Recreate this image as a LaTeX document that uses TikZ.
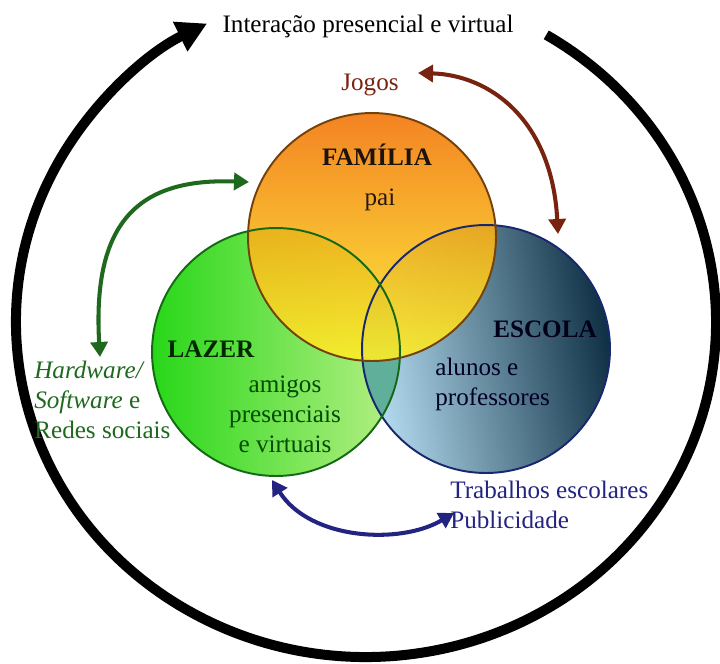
\documentclass[tikz,border=0pt]{standalone}
\usepackage{fontspec}
\setmainfont{Liberation Serif}
\usetikzlibrary{arrows.meta}
\definecolor{famtop}{RGB}{242,118,10}
\definecolor{fambot}{RGB}{252,238,40}
\definecolor{famedge}{RGB}{115,65,10}
\definecolor{lazleft}{RGB}{40,215,25}
\definecolor{lazright}{RGB}{185,240,135}
\definecolor{lazedge}{RGB}{20,105,20}
\definecolor{esclight}{RGB}{185,225,245}
\definecolor{escdark}{RGB}{15,48,68}
\definecolor{escedge}{RGB}{25,40,110}
\definecolor{mixteal}{RGB}{95,175,155}
\definecolor{hwgreen}{RGB}{30,105,30}
\definecolor{jogbrown}{RGB}{120,35,15}
\definecolor{trabnavy}{RGB}{35,35,130}
\begin{document}
\begin{tikzpicture}[x=0.02cm, y=-0.02cm, font=\fontsize{14.3}{17}\selectfont,
  set/.style={circle, minimum size=4.96cm, inner sep=0pt},
  link/.style={line width=2.3pt, {Triangle[length=3mm,width=3.4mm]}-{Triangle[length=3mm,width=3.4mm]}},
  lbl/.style={inner sep=0pt}]
  \useasboundingbox (0,0) rectangle (720,663);
  \node[set, shading=axis, top color=esclight, bottom color=escdark, shading angle=100] (escola) at (486,349) {};
  \node[set, left color=lazleft, right color=lazright] (lazer) at (276,352) {};
  \begin{scope}
    \clip (lazer.center) circle[radius=2.48cm];
    \fill[mixteal] (escola.center) circle[radius=2.48cm];
  \end{scope}
  \node[set, top color=famtop, bottom color=fambot, fill opacity=0.9] (familia) at (372,237) {};
  \foreach \n/\c in {escola/escedge, lazer/lazedge, familia/famedge}
    \draw[\c, line width=1.1pt] (\n.center) circle[radius=2.48cm];

  \coordinate (ringc) at (366,322);
  \draw[line width=0.2cm, -{Triangle[length=6mm,width=6.2mm]}] (ringc) ++(-59:350 and 335)
    arc[start angle=-59, end angle=243, x radius=350, y radius=335];

  \node[lbl, anchor=base] (title) at (368,32) {Interação presencial e virtual};
  \node[lbl, anchor=base, text=jogbrown] (jogos) at (370,90) {Jogos};
  \node[lbl, anchor=base, text=black!85!brown] (famname) at (377,165) {\bfseries FAMÍLIA};
  \node[lbl, anchor=base, text=black!80!brown] (pai) at (380,205) {pai};
  \node[lbl, anchor=base, text=black!90!blue] (escname) at (545,337) {\bfseries ESCOLA};
  \node[lbl, anchor=north west, align=left, text=black!85!blue] (alunos) at (435,358) {alunos e\\professores};
  \node[lbl, anchor=base, text=black!85!green] (lazname) at (211,357) {\bfseries LAZER};
  \node[lbl, anchor=north, align=center, text=black!70!green] (amigos) at (285,376) {amigos\\presenciais\\e virtuais};
  \node[lbl, anchor=north west, align=left, text=hwgreen] (hw) at (34,361) {\textit{Hardware/}\\\textit{Software} e\\Redes sociais};
  \node[lbl, anchor=north west, align=left, text=trabnavy] (trab) at (450,481) {Trabalhos escolares\\Publicidade};

  \coordinate (hwtip) at (100,357);
  \coordinate (famtip) at (249,182);
  \coordinate (jogtip) at (418,73);
  \coordinate (esctip) at (558,234);
  \coordinate (laztip) at (272,480);
  \coordinate (pubtip) at (454,513);
  \draw[link, hwgreen] (hwtip) .. controls (92,220) and (140,178) .. (famtip);
  \draw[link, jogbrown] (jogtip) .. controls (490,75) and (552,120) .. (esctip);
  \draw[link, trabnavy] (laztip) .. controls (310,540) and (400,545) .. (pubtip);
\end{tikzpicture}
\end{document}
